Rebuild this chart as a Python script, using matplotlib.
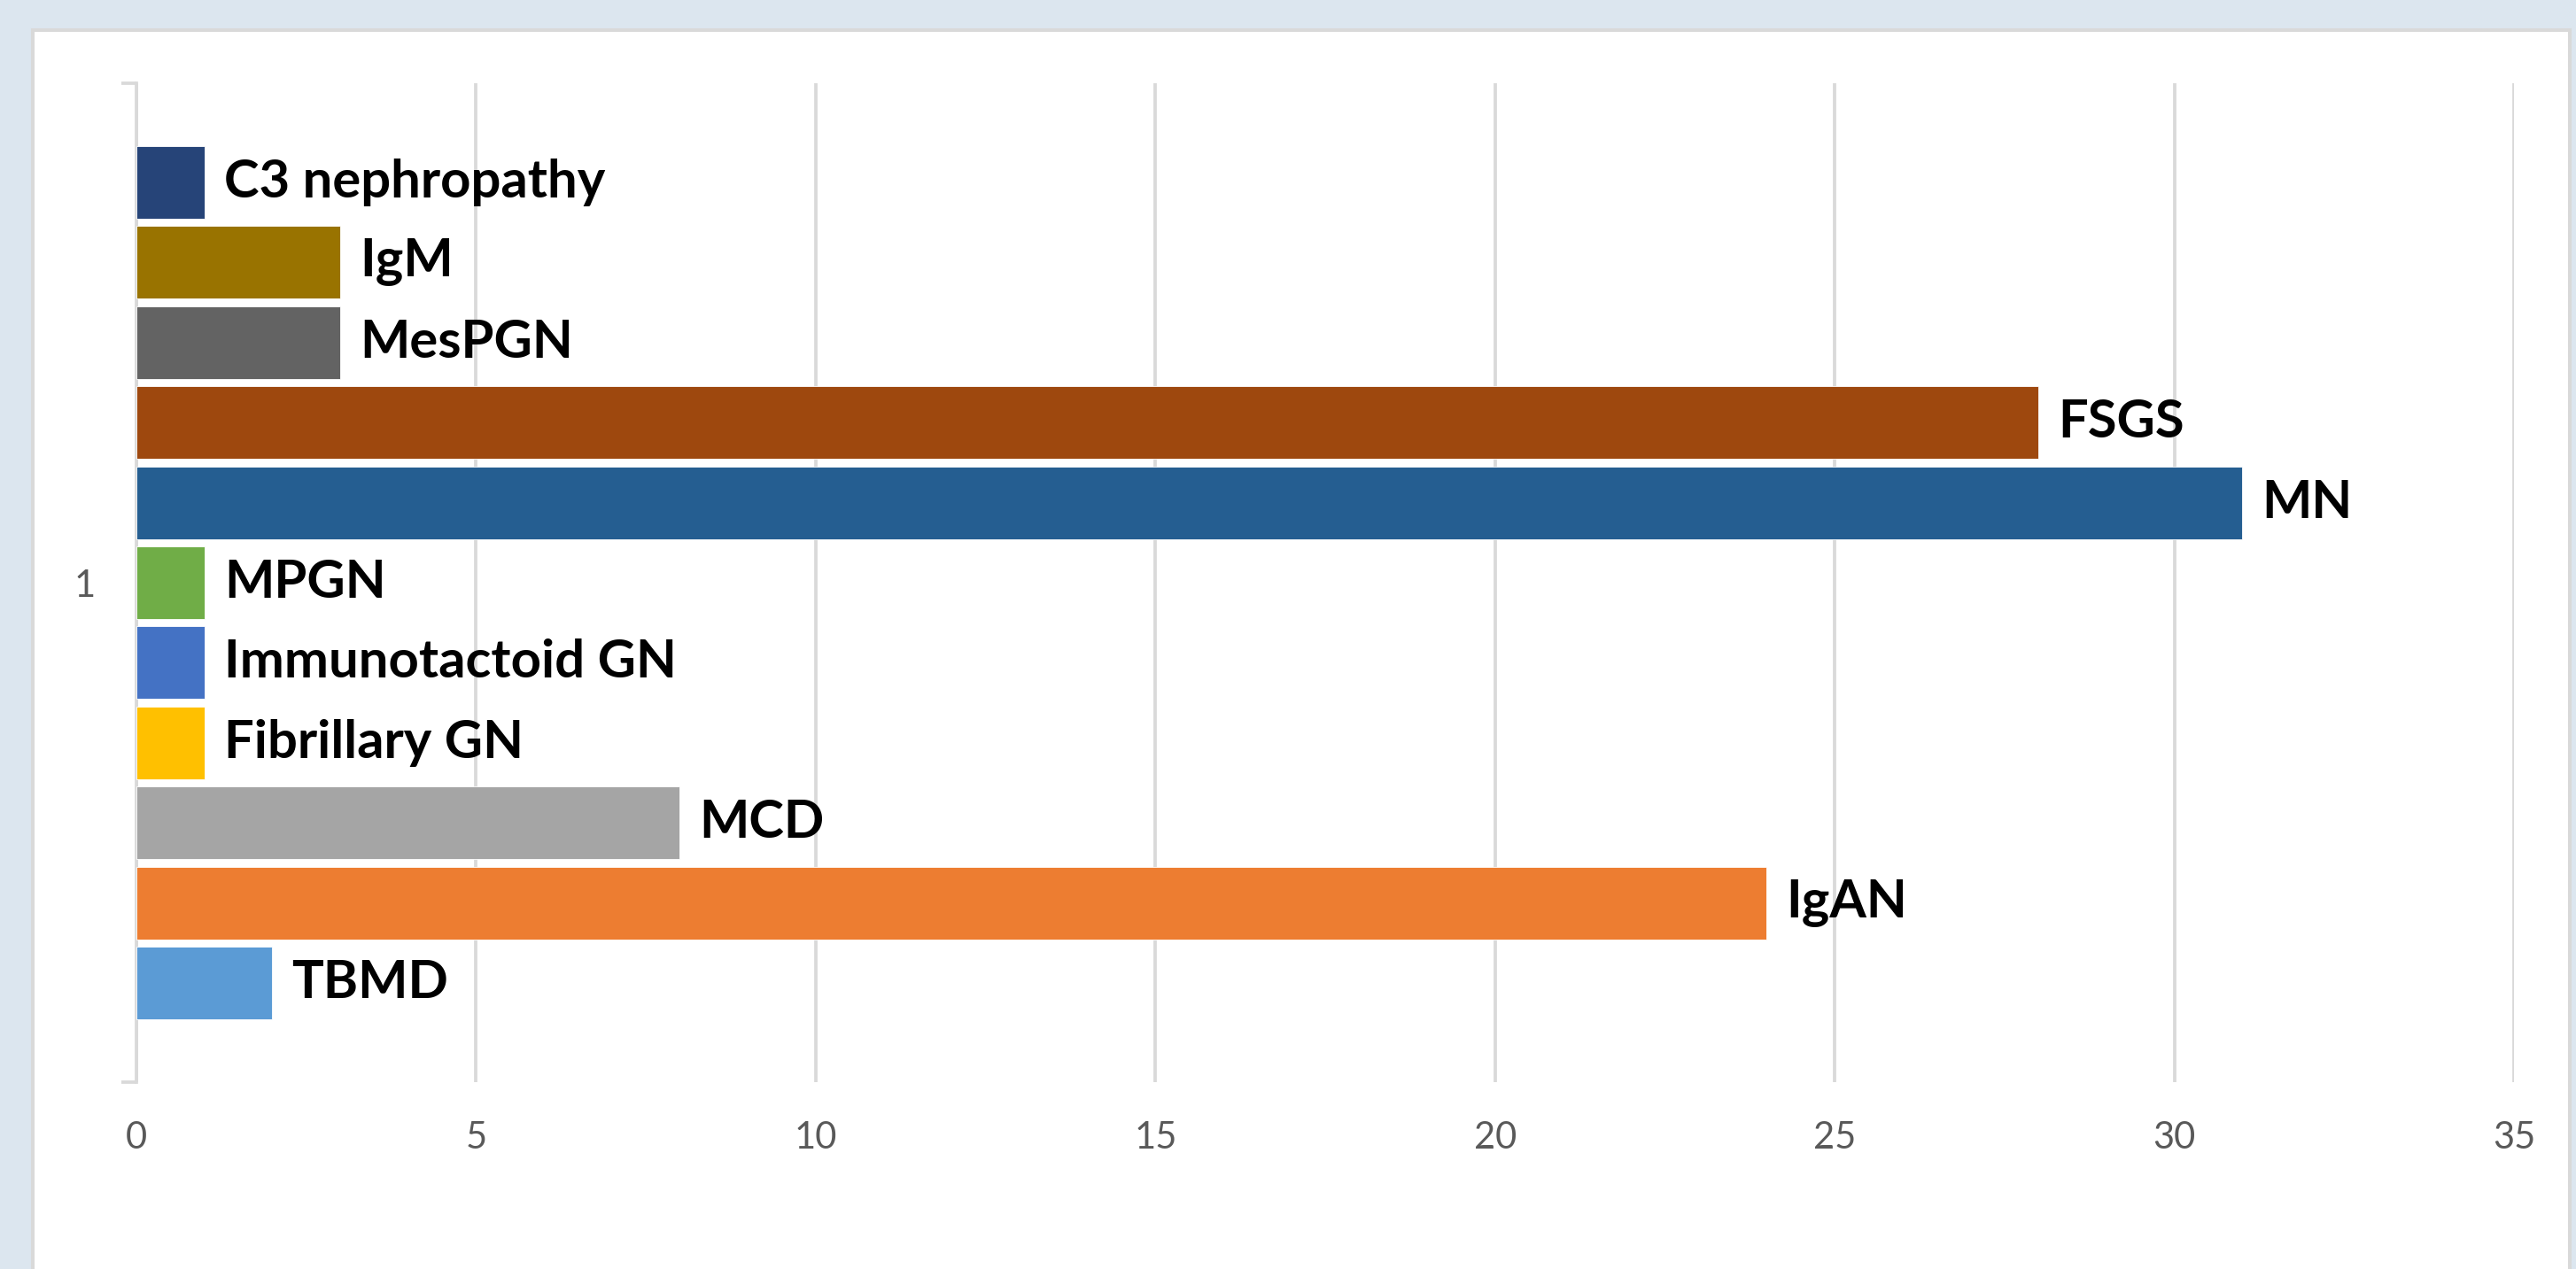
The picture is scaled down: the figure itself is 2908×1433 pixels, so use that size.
import matplotlib.pyplot as plt
from matplotlib.patches import Rectangle

plt.rcParams['font.family'] = ['Lato', 'DejaVu Sans']

# data, top to bottom as in the chart
diseases = ["C3 nephropathy", "IgM", "MesPGN", "FSGS", "MN", "MPGN",
            "Immunotactoid GN", "Fibrillary GN", "MCD", "IgAN", "TBMD"]
counts = [1, 3, 3, 28, 31, 1, 1, 1, 8, 24, 2]
colors = ["#264478", "#997300", "#636363", "#9E480E", "#255E91", "#70AD47",
          "#4472C4", "#FFC000", "#A5A5A5", "#ED7D31", "#5B9BD5"]
x_ticks = [0, 5, 10, 15, 20, 25, 30, 35]
category = "1"

W, H = 2908, 1433
fig = plt.figure(figsize=(W / 100, H / 100), dpi=100)
fig.patch.set_facecolor("#DCE6EF")

# white chart panel with grey border
panel = Rectangle((37 / W, -0.05), (2901 - 37) / W, 1 - 34 / H + 0.05,
                  transform=fig.transFigure, facecolor="white",
                  edgecolor="#D9D9D9", linewidth=2.9, zorder=0)
fig.add_artist(panel)

ax = fig.add_axes([154 / W, 1 - 1222 / H, (2838 - 154) / W, (1222 - 94) / H])
ax.set_facecolor("none")

pos = list(range(len(diseases)))
bars = ax.barh(pos, counts, height=0.907, color=colors,
               edgecolor="white", linewidth=0.6, zorder=3)

for p, v, name in zip(pos, counts, diseases):
    ax.annotate(name, (v, p), xytext=(16, 0), textcoords="offset points",
                ha="left", va="center", fontsize=43, fontweight="bold",
                color="black", zorder=4)

edge = 1.239
ax.set_ylim(len(diseases) - 1 + edge, -edge)
ax.set_xlim(0, 35)

ax.set_xticks(x_ticks)
ax.tick_params(axis="x", length=0, pad=32, labelsize=30, labelcolor="#595959")
ax.grid(axis="x", color="#D9D9D9", linewidth=2.7, zorder=1)

# category axis: ticks at the category boundaries, label in the middle
ax.set_yticks([-edge, len(diseases) - 1 + edge], ["", ""])
ax.tick_params(axis="y", which="major", length=12, width=2.7, color="#D9D9D9")
ax.set_yticks([(len(diseases) - 1) / 2], [category], minor=True)
ax.tick_params(axis="y", which="minor", length=0, pad=33, labelsize=30,
               labelcolor="#595959")

for s in ["top", "right", "bottom"]:
    ax.spines[s].set_visible(False)
ax.spines["left"].set_color("#D9D9D9")
ax.spines["left"].set_linewidth(2.7)
ax.spines["left"].set_zorder(2)

fig.savefig("out.png", dpi=100, facecolor=fig.get_facecolor())
